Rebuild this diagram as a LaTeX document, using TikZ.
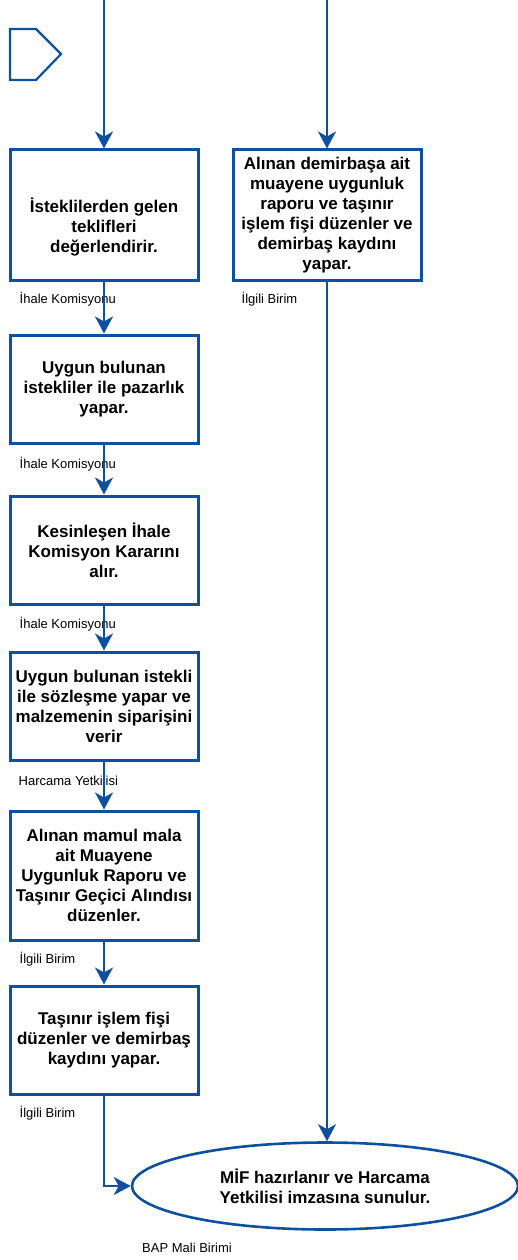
\documentclass[tikz,border=0pt]{standalone}
\usepackage{fontspec}
\setmainfont{Liberation Sans}
\usetikzlibrary{positioning,arrows.meta,shapes.geometric}

\definecolor{flowblue}{RGB}{14,80,160}

\begin{document}
\begin{tikzpicture}[
  x=1pt, y=-1pt,
  boxstyle/.style={
        draw=flowblue,
        line width=3pt,
        fill=white,
        minimum width=188pt,
        inner sep=2pt,
        align=center,
        font=\bfseries\fontsize{17}{20}\selectfont
  },
  endstyle/.style={
        draw=flowblue,
        line width=2.6pt,
        ellipse,
        fill=white,
        minimum width=386pt,
        minimum height=87pt,
        inner sep=0pt,
        align=center,
        font=\bfseries\fontsize{17}{20}\selectfont
  },
  labelstyle/.style={
        anchor=west,
        inner sep=0pt,
        font=\fontsize{13}{15}\selectfont
  },
  arrowstyle/.style={
        draw=flowblue,
        line width=2.4pt,
        -{Stealth[length=17pt, width=18pt, inset=5pt]}
  }
]

    \useasboundingbox (0,0) rectangle (518,1260);

    % off-page connector
    \draw[flowblue, line width=2.2pt] (10,29) -- (36,29) -- (61,54) -- (36,80) -- (10,80) -- cycle;

    \coordinate (inL) at (104,0);
    \coordinate (inR) at (327,0);

    \node[boxstyle, minimum height=130pt] (box1) at (104,215)
        {\rule{0pt}{38pt}İsteklilerden gelen\\teklifleri\\değerlendirir.};
    \node[boxstyle, minimum height=130pt] (box2) at (327,215)
        {Alınan demirbaşa ait\\muayene uygunluk\\raporu ve taşınır\\işlem fişi düzenler ve\\demirbaş kaydını\\yapar.};
    \node[boxstyle, minimum height=108pt, below=52pt of box1] (box3)
        {Uygun bulunan\\istekliler ile pazarlık\\yapar.};
    \node[boxstyle, minimum height=108pt, below=50pt of box3] (box4)
        {Kesinleşen İhale\\Komisyon Kararını\\alır.};
    \node[boxstyle, minimum height=108pt, below=45pt of box4] (box5)
        {Uygun bulunan istekli\\ile sözleşme yapar ve\\malzemenin siparişini\\verir};
    \node[boxstyle, minimum height=129pt, below=48pt of box5] (box6)
        {Alınan mamul mala\\ait Muayene\\Uygunluk Raporu ve\\Taşınır Geçici Alındısı\\düzenler.};
    \node[boxstyle, minimum height=108pt, below=43pt of box6] (box7)
        {Taşınır işlem fişi\\düzenler ve demirbaş\\kaydını yapar.};
    \node[endstyle] (mif) at (325,1186)
        {MİF hazırlanır ve Harcama\\Yetkilisi imzasına sunulur.};

    % who does it
    \node[labelstyle] (lbl1) at ([shift={(11pt,-18pt)}]box1.south west) {İhale Komisyonu};
    \node[labelstyle] (lbl2) at ([shift={(10pt,-18pt)}]box2.south west) {İlgili Birim};
    \node[labelstyle] (lbl3) at ([shift={(11pt,-20pt)}]box3.south west) {İhale Komisyonu};
    \node[labelstyle] (lbl4) at ([shift={(11pt,-19pt)}]box4.south west) {İhale Komisyonu};
    \node[labelstyle] (lbl5) at ([shift={(10pt,-19pt)}]box5.south west) {Harcama Yetkilisi};
    \node[labelstyle] (lbl6) at ([shift={(11pt,-18pt)}]box6.south west) {İlgili Birim};
    \node[labelstyle] (lbl7) at ([shift={(11pt,-18pt)}]box7.south west) {İlgili Birim};
    \node[labelstyle] (lbl8) at (142,1248) {BAP Mali Birimi};

    \draw[arrowstyle] (inL) -- (box1.north);
    \draw[arrowstyle] (inR) -- (box2.north);
    \draw[arrowstyle] (box1) -- (box3);
    \draw[arrowstyle] (box3) -- (box4);
    \draw[arrowstyle] (box4) -- (box5);
    \draw[arrowstyle] (box5) -- (box6);
    \draw[arrowstyle] (box6) -- (box7);
    \draw[arrowstyle] (box7.south) |- (mif.west);
    \draw[arrowstyle] (box2.south) -- (box2.south |- mif.north);
\end{tikzpicture}
\end{document}
